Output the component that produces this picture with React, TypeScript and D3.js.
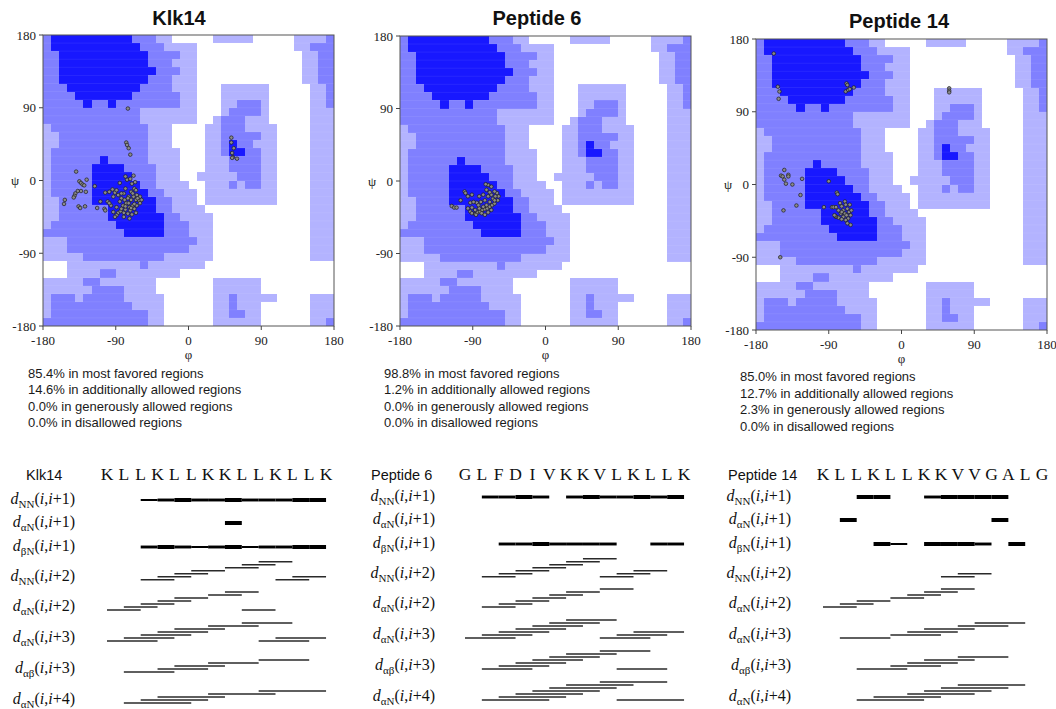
import React from "react";
import * as d3 from "d3";

// ── Data ──────────────────────────────────────────────────────────────────────

const AXIS_TICKS = [-180, -90, 0, 90, 180];

// Ramachandran regions on a 10° grid. Row 0 is psi 180..170, columns run phi -180..180.
// Tokens are "level" or "levelxcount"; 0 disallowed, 1 generous, 2 allowed, 3 core.
const REGION_ROWS = [
  "2 3x10 2x3 1x2 0x5 1x5 0x5 1x4 2",
  "2 3x11 2x3 1x4 0x12 1x2 2x3",
  "2x2 3x11 2x4 1x2 0x13 1x2 2x2",
  "2x2 3x11 2x3 1x3 0x13 1x2 2x2",
  "2x2 3x12 2x3 1x2 0x13 1x2 2x2",
  "2x2 3x11 2x3 1x3 0x13 1x2 2x2",
  "2x3 3x9 2x4 1x3 0x3 1x6 0x5 1x2 2",
  "2x4 3x7 2x6 1x2 0x3 1x6 0x5 1x2 2",
  "2x5 3 2x2 3 2x8 1x2 0x3 1x2 2x3 1 0x5 1x2 2",
  "2x12 1x7 0x3 1 2x4 1 0x5 1x3",
  "2x12 1x7 0x2 1 2x3 1x3 0x5 1x3",
  "1 2x12 1x3 0x4 1x2 2x3 1x4 0x4 1x3",
  "1x2 2x11 1x3 0x4 1x2 2x5 1x2 0x4 1x3",
  "1x2 2x11 1x3 0x4 1x2 2 3 2x2 1x3 0x4 1x3",
  "1 2x12 1x4 0x3 1x2 2 3x2 2x2 1x2 0x4 1x3",
  "1 2x6 3 2x5 1x4 0x3 1x3 2x4 1x2 0x4 1x3",
  "1 2x5 3x4 2x4 1x3 0x3 1x3 2x4 1x2 0x4 1x3",
  "1 2x5 3x5 2x3 1x3 0x2 1x5 2x3 1x2 0x4 1x3",
  "1 2x5 3x6 2x2 1x4 0x2 1x3 2 1 2x2 1x2 0x4 1x3",
  "1 2x5 3x7 2x2 1x4 0 1x9 0x4 1x3",
  "1x2 2x4 3x8 2x2 1x3 0 1x9 0x4 1x3",
  "1x2 2x6 3x6 2x2 1x4 0x13 1x3",
  "1x2 2x6 3x7 2x2 1x4 0x12 1x3",
  "1 2x8 3x6 2x3 1x3 0x12 1x3",
  "2x10 3x5 2x3 1x3 0x12 1x3",
  "1x3 2x16 1x2 0x12 1x3",
  "1x3 2x15 1x3 0x12 1x3",
  "1x5 2x10 1x6 0x12 1x3",
  "0x3 1x9 2 1x7 0x16",
  "0x3 1x4 2x2 1x8 0x19",
  "1x5 2x2 1x7 0x7 1x6 0x9",
  "1x6 2x4 1x4 0x7 1x6 0x9",
  "1 2x3 1 2x5 1x5 0x6 1x2 2 1x5 0x4 1x3",
  "1 2x10 1x4 0x6 1x2 2 1x3 0x6 1x3",
  "1 2x12 1x2 0x6 1x2 2x2 1x2 0x6 1x3",
  "2x13 1x2 0x6 1x6 0x6 1x2 2",
];

// [phi, psi]
const KLK14_POINTS: [number, number][] = [
  [-75, 89], [-77, 47], [-76, 44], [-74, 40], [-72, 32],
  [53, 53], [53, 47], [56, 40], [54, 34], [55, 29], [60, 27], [54, 28],
  [-139, 11], [-135, -1], [-133, -3], [-131, -5], [-126, 1], [-129, -6], [-127, -14],
  [-133, -13], [-137, -13], [-140, -16], [-141, -19], [-142, -21], [-153, -24], [-154, -29],
  [-136, -32], [-134, -34], [-128, -32], [-116, -7], [-113, -34], [-109, -26],
  [-103, -15], [-98, -14], [-94, -11], [-91, -15], [-89, -12], [-87, -18], [-85, -3],
  [-83, -22], [-80, -16], [-78, -10], [-76, 1], [-74, -20], [-71, -14], [-70, -4],
  [-68, 6], [-67, -10], [-65, -24], [-64, -18], [-61, -25], [-60, -20], [-69, -31],
  [-73, -33], [-77, -28], [-81, -31], [-85, -26], [-89, -33], [-93, -39], [-96, -31],
  [-100, -26], [-104, -35], [-103, -37], [-87, -40], [-84, -38], [-80, -40], [-78, -36],
  [-75, -41], [-72, -37], [-70, -42], [-67, -35], [-65, -40], [-73, -47], [-80, -45],
  [-89, -43], [-91, -45], [-64, -31], [-60, -28], [-71, -24], [-75, -22], [-79, -24],
  [-83, -16], [-93, -20], [-98, -28], [-68, -20], [-65, -12], [-69, -16], [-74, -28],
  [-78, -32], [-83, -35], [-63, -22], [-58, -24], [-67, -29], [-71, -34], [-78, 5],
  [-72, 2], [-66, -2],
];

const PEP6_POINTS: [number, number][] = [
  [-116, -31], [-113, -33], [-110, -33], [-105, -24], [-100, -13], [-99, -15],
  [-96, -19], [-91, -17], [-93, -27], [-96, -34], [-93, -38], [-91, -40], [-87, -41],
  [-84, -39], [-81, -38], [-78, -36], [-75, -35], [-72, -34], [-69, -32], [-66, -30],
  [-63, -28], [-59, -24], [-58, -19], [-60, -15], [-63, -13], [-67, -7], [-71, -5],
  [-74, -4], [-73, -11], [-77, -17], [-82, -19], [-85, -27], [-80, -26], [-75, -24],
  [-71, -19], [-67, -17], [-65, -22], [-69, -26], [-73, -30], [-77, -32], [-82, -34],
  [-87, -36], [-91, -33], [-83, -30], [-79, -40], [-71, -39], [-67, -36], [-63, -24],
  [-62, -19], [-69, -14], [-89, -26], [-86, -42], [-75, -42],
];

const PEP14_POINTS: [number, number][] = [
  [-158, 162], [-153, 121], [-151, 115], [-152, 106],
  [-68, 125], [-67, 123], [-69, 115], [-66, 117], [-64, 118], [-59, 120],
  [59, 119], [59, 116], [59, 114],
  [-145, 18], [-149, 11], [-147, 10], [-145, 6], [-143, 1], [-140, 12], [-140, 10],
  [-135, 0], [-123, 7], [-125, -13], [-130, -26], [-146, -32], [-150, -90],
  [-90, 4], [-80, -10], [-79, -12], [-96, -28], [-86, -28], [-84, -28], [-81, -28],
  [-76, -23], [-74, -27], [-72, -32], [-70, -21], [-69, -25], [-67, -30], [-65, -34],
  [-63, -38], [-66, -42], [-69, -44], [-72, -40], [-75, -36], [-78, -41], [-81, -40],
  [-82, -39], [-74, -43], [-67, -48], [-63, -50], [-70, -36], [-74, -34], [-78, -32],
  [-83, -38], [-64, -25], [-62, -32], [-68, -38],
];

const KLK14_STATS = [
  "85.4% in most favored regions",
  "14.6% in additionally allowed regions",
  "0.0% in generously allowed regions",
  "0.0% in disallowed regions",
];
const PEP6_STATS = [
  "98.8% in most favored regions",
  "1.2% in additionally allowed regions",
  "0.0% in generously allowed regions",
  "0.0% in disallowed regions",
];
const PEP14_STATS = [
  "85.0% in most favored regions",
  "12.7% in additionally allowed regions",
  "2.3% in generously allowed regions",
  "0.0% in disallowed regions",
];

// NOE connectivities. Sequential: [residue i, intensity 1..3]; medium range: residue i.
const KLK14_SEQ = ["K", "L", "L", "K", "L", "L", "K", "K", "L", "L", "K", "L", "L", "K"];
const KLK14_NN1 = [[2, 1], [3, 2], [4, 3], [5, 2], [6, 2], [7, 3], [8, 2], [9, 2], [10, 2], [11, 3], [12, 3]];
const KLK14_AN1 = [[7, 3]];
const KLK14_BN1 = [[2, 2], [3, 3], [4, 2], [5, 1], [6, 2], [7, 3], [8, 1], [9, 2], [10, 2], [11, 3], [12, 3]];
const KLK14_NN2 = [2, 3, 4, 5, 7, 8, 9, 10, 11];
const KLK14_AN2 = [0, 1, 2, 3, 4, 6, 7, 8];
const KLK14_AN3 = [0, 1, 2, 3, 4, 6, 8, 9, 10];
const KLK14_AB3 = [1, 3, 4, 6, 9];
const KLK14_AN4 = [1, 2, 3, 6, 9];

const PEP6_SEQ = ["G", "L", "F", "D", "I", "V", "K", "K", "V", "L", "K", "L", "L", "K"];
const PEP6_NN1 = [[1, 2], [2, 2], [3, 3], [4, 2], [6, 2], [7, 3], [8, 2], [9, 2], [10, 3], [11, 2], [12, 3]];
const PEP6_AN1: number[][] = [];
const PEP6_BN1 = [[2, 2], [3, 2], [4, 3], [5, 2], [6, 2], [7, 2], [8, 2], [11, 2], [12, 2]];
const PEP6_NN2 = [1, 2, 3, 4, 5, 6, 7, 8, 9, 10];
const PEP6_AN2 = [1, 2, 3, 4, 5, 6, 8];
const PEP6_AN3 = [0, 1, 2, 3, 4, 5, 6, 8, 9, 10];
const PEP6_AB3 = [1, 2, 3, 4, 5, 6, 8, 9];
const PEP6_AN4 = [1, 2, 3, 4, 5, 6, 8, 9];

const PEP14_SEQ = ["K", "L", "L", "K", "L", "L", "K", "K", "V", "V", "G", "A", "L", "G"];
const PEP14_NN1 = [[2, 3], [3, 3], [6, 2], [7, 3], [8, 3], [9, 3], [10, 3]];
const PEP14_AN1 = [[1, 3], [10, 3]];
const PEP14_BN1 = [[3, 3], [4, 1], [6, 3], [7, 3], [8, 3], [9, 2], [11, 3]];
const PEP14_NN2 = [7, 8];
const PEP14_AN2 = [0, 1, 2, 4, 5, 6, 7];
const PEP14_AN3 = [1, 4, 5, 6, 8, 9];
const PEP14_AB3 = [2, 4, 5, 6, 8];
const PEP14_AN4 = [2, 3, 5, 6, 7, 8];

// ── Layout / style ────────────────────────────────────────────────────────────

const LEVEL_FILL = ["#ffffff", "#b3b3ff", "#8080ff", "#1818ff"];
const SERIF = "'Liberation Serif', 'Times New Roman', serif";
const SANS = "'Liberation Sans', Arial, sans-serif";
const RES_STEP = 16.85;
const BAR_WIDTH = [0, 2, 2.9, 4];

function parseRow(row: string): number[] {
  const out: number[] = [];
  row.split(" ").forEach((tok) => {
    const [lv, n] = tok.split("x");
    for (let k = 0; k < (n ? +n : 1); k++) out.push(+lv);
  });
  while (out.length < 36) out.push(out[out.length - 1]);
  return out.slice(0, 36);
}

const REGION_GRID = REGION_ROWS.map(parseRow);

// ── Ramachandran plot ────────────────────────────────────────────────────────

interface PlotBox { x0: number; x1: number; y0: number; y1: number }

function Rama({ box, points }: { box: PlotBox; points: [number, number][] }) {
  const x = d3.scaleLinear().domain([-180, 180]).range([box.x0, box.x1]);
  const y = d3.scaleLinear().domain([-180, 180]).range([box.y1, box.y0]);

  const cells: React.ReactNode[] = [];
  REGION_GRID.forEach((levels, r) => {
    let c0 = 0;
    for (let c = 1; c <= 36; c++) {
      if (c === 36 || levels[c] !== levels[c0]) {
        const lv = levels[c0];
        if (lv > 0) {
          cells.push(
            <rect
              key={`${r}-${c0}`}
              x={x(-180 + 10 * c0)}
              y={y(180 - 10 * r)}
              width={x(-180 + 10 * c) - x(-180 + 10 * c0)}
              height={y(170 - 10 * r) - y(180 - 10 * r)}
              fill={LEVEL_FILL[lv]}
            />
          );
        }
        c0 = c;
      }
    }
  });

  // faint row striping seen in the original raster
  const stripes = d3.range(-170, 180, 10).map((v) => (
    <line key={v} x1={box.x0} x2={box.x1} y1={y(v)} y2={y(v)} stroke="#fff" strokeOpacity={0.12} strokeWidth={0.6} />
  ));

  return (
    <g>
      <g shapeRendering="crispEdges">{cells}</g>
      {stripes}
      <rect x={box.x0} y={box.y0} width={box.x1 - box.x0} height={box.y1 - box.y0} fill="none" stroke="#555" strokeWidth={1} />
      {AXIS_TICKS.map((t) => (
        <g key={`x${t}`}>
          <line x1={x(t)} x2={x(t)} y1={box.y1} y2={box.y1 + 4} stroke="#444" />
          <text x={x(t)} y={box.y1 + 19} textAnchor="middle" fontFamily={SERIF} fontSize={13} fill="#222">{t}</text>
        </g>
      ))}
      {AXIS_TICKS.map((t) => (
        <g key={`y${t}`}>
          <line x1={box.x0 - 4} x2={box.x0} y1={y(t)} y2={y(t)} stroke="#444" />
          <text x={box.x0 - 7} y={y(t) + 4.5} textAnchor="end" fontFamily={SERIF} fontSize={13} fill="#222">{t}</text>
        </g>
      ))}
      <text x={box.x0 - 28} y={y(0) + 4.5} textAnchor="middle" fontFamily={SERIF} fontSize={13} fill="#222">ψ</text>
      <text x={(box.x0 + box.x1) / 2} y={box.y1 + 33} textAnchor="middle" fontFamily={SERIF} fontSize={13} fill="#222">φ</text>
      {points.map(([phi, psi], i) => (
        <circle key={i} cx={x(phi)} cy={y(psi)} r={1.8} fill="#8a8a8a" stroke="#1e1e1e" strokeWidth={0.7} />
      ))}
    </g>
  );
}

// ── NOE connectivity diagram ─────────────────────────────────────────────────

interface NoeData {
  seq: string[];
  nn1: number[][]; an1: number[][]; bn1: number[][];
  nn2: number[]; an2: number[]; an3: number[]; ab3: number[]; an4: number[];
}

const SEQ_ROWS = [
  { key: "nn1", sub: "NN", span: 1, y: 497 },
  { key: "an1", sub: "αN", span: 1, y: 520 },
  { key: "bn1", sub: "βN", span: 1, y: 544 },
];
const MED_ROWS = [
  { key: "nn2", sub: "NN", span: 2, y: 576.7 },
  { key: "an2", sub: "αN", span: 2, y: 607 },
  { key: "an3", sub: "αN", span: 3, y: 638 },
  { key: "ab3", sub: "αβ", span: 3, y: 669 },
  { key: "an4", sub: "αN", span: 4, y: 700 },
];

function NoeLabel({ x, y, sub, span }: { x: number; y: number; sub: string; span: number }) {
  return (
    <text x={x} y={y} textAnchor="end" fontFamily={SERIF} fontSize={16} fill="#111">
      <tspan fontStyle="italic">d</tspan>
      <tspan fontSize={11} dy={4}>{sub}</tspan>
      <tspan dy={-4}>(</tspan>
      <tspan fontStyle="italic">i</tspan>
      <tspan>,</tspan>
      <tspan fontStyle="italic">i</tspan>
      <tspan>{`+${span})`}</tspan>
    </text>
  );
}

function Noe({ title, titleX, data, labelRight, res0, dy }: {
  title: string; titleX: number; data: NoeData; labelRight: number; res0: number; dy: number;
}) {
  const rx = d3.scaleLinear().domain([0, data.seq.length - 1]).range([res0, res0 + (data.seq.length - 1) * RES_STEP]);
  return (
    <g>
      <text x={titleX} y={480} fontFamily={SANS} fontSize={14.5} fill="#111">{title}</text>
      {data.seq.map((s, i) => (
        <text key={i} x={rx(i)} y={480} textAnchor="middle" fontFamily={SERIF} fontSize={17.5} fill="#111">{s}</text>
      ))}
      {SEQ_ROWS.map((row) => (
        <g key={row.key}>
          <NoeLabel x={labelRight} y={row.y + dy + 4} sub={row.sub} span={row.span} />
          {(data as any)[row.key].map(([i, w]: number[]) => (
            <rect key={i} x={rx(i)} y={row.y + dy - BAR_WIDTH[w] / 2} width={rx(i + 1) - rx(i)} height={BAR_WIDTH[w]} fill="#000" />
          ))}
        </g>
      ))}
      {MED_ROWS.map((row) => (
        <g key={row.key}>
          <NoeLabel x={labelRight} y={row.y + dy + 1} sub={row.sub} span={row.span} />
          {(data as any)[row.key].map((i: number, k: number) => {
            const yy = row.y + dy - 3 * (k % 7);
            return <line key={i} x1={rx(i)} x2={rx(i + row.span)} y1={yy} y2={yy} stroke="#2a2a2a" strokeWidth={1.4} />;
          })}
        </g>
      ))}
    </g>
  );
}

function Stats({ x, y, lines }: { x: number; y: number; lines: string[] }) {
  return (
    <g>
      {lines.map((l, i) => (
        <text key={i} x={x} y={y + i * 16.5} fontFamily={SANS} fontSize={13} fill="#1a1a1a">{l}</text>
      ))}
    </g>
  );
}

// ── App ──────────────────────────────────────────────────────────────────────

export default function App() {
  const klk: NoeData = { seq: KLK14_SEQ, nn1: KLK14_NN1, an1: KLK14_AN1, bn1: KLK14_BN1, nn2: KLK14_NN2, an2: KLK14_AN2, an3: KLK14_AN3, ab3: KLK14_AB3, an4: KLK14_AN4 };
  const p6: NoeData = { seq: PEP6_SEQ, nn1: PEP6_NN1, an1: PEP6_AN1, bn1: PEP6_BN1, nn2: PEP6_NN2, an2: PEP6_AN2, an3: PEP6_AN3, ab3: PEP6_AB3, an4: PEP6_AN4 };
  const p14: NoeData = { seq: PEP14_SEQ, nn1: PEP14_NN1, an1: PEP14_AN1, bn1: PEP14_BN1, nn2: PEP14_NN2, an2: PEP14_AN2, an3: PEP14_AN3, ab3: PEP14_AB3, an4: PEP14_AN4 };

  return (
    <svg width={1056} height={709} style={{ position: "absolute", left: 0, top: 0, background: "#fff" }}>
      <rect width={1056} height={709} fill="#fff" />

      <text x={179} y={25} textAnchor="middle" fontFamily={SANS} fontWeight="bold" fontSize={20} fill="#111">Klk14</text>
      <text x={537} y={25} textAnchor="middle" fontFamily={SANS} fontWeight="bold" fontSize={20} fill="#111">Peptide 6</text>
      <text x={899} y={28} textAnchor="middle" fontFamily={SANS} fontWeight="bold" fontSize={20} fill="#111">Peptide 14</text>

      <Rama box={{ x0: 43, x1: 334, y0: 35, y1: 326 }} points={KLK14_POINTS} />
      <Rama box={{ x0: 400, x1: 691, y0: 36, y1: 326 }} points={PEP6_POINTS} />
      <Rama box={{ x0: 756, x1: 1047, y0: 39, y1: 330 }} points={PEP14_POINTS} />

      <Stats x={28} y={377.5} lines={KLK14_STATS} />
      <Stats x={384} y={377.5} lines={PEP6_STATS} />
      <Stats x={740} y={381} lines={PEP14_STATS} />

      <Noe title="Klk14" titleX={26} data={klk} labelRight={75} res0={107} dy={3} />
      <Noe title="Peptide 6" titleX={371} data={p6} labelRight={435} res0={465} dy={0} />
      <Noe title="Peptide 14" titleX={728} data={p14} labelRight={791} res0={823} dy={0} />
    </svg>
  );
}
